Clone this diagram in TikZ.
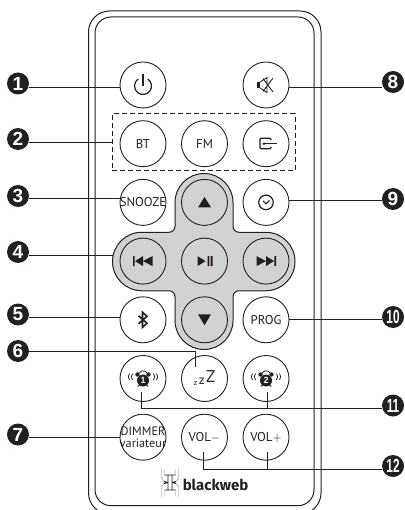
\documentclass[tikz,border=0pt]{standalone}
\usepackage{fontspec}
\usepackage{graphicx}
\setmainfont{PT Sans}
\newfontfamily\badgefont{Liberation Sans}
\newfontfamily\logofont{Fira Sans}
\usetikzlibrary{positioning}
\definecolor{ink}{HTML}{231F20}
\definecolor{padgray}{HTML}{D1D2D4}
\tikzstyle{btn} = [circle, draw=ink, fill=white, line width=0.9pt, minimum size=46pt, inner sep=0pt, text=ink, font=\fontsize{12.8}{12}\selectfont]
\tikzstyle{padbtn} = [btn, fill=padgray]
\tikzstyle{badge} = [circle, fill=ink, text=white, minimum size=22pt, inner sep=0pt, font=\badgefont\bfseries\fontsize{19}{19}\selectfont]
\tikzstyle{line} = [draw=ink, line width=1pt]
\tikzstyle{icon} = [draw=ink, line width=1.2pt]
\tikzstyle{solid icon} = [fill=ink]
\tikzstyle{clockface} = [circle, fill=ink, text=white, minimum size=12pt, inner sep=0pt, font=\badgefont\bfseries\fontsize{9}{9}\selectfont]
\newcommand{\lbl}[1]{\makebox[0pt]{#1}}
\newcommand{\narrowed}[1]{\scalebox{.62}[1]{#1}}
% alarm clock, #1 = button, #2 = number
\newcommand{\alarmicon}[2]{
	\begin{scope}[shift={(#1)}]
		\node [clockface] (#1face) at (0,-2) {#2};
		\path [solid icon] (-5.5,4) circle (2.2) (5.5,4) circle (2.2);
		\draw [line width=0.8pt, draw=ink] (-5,-8) -- (-3,-6) (5,-8) -- (3,-6);
		\draw [line width=0.8pt, draw=ink] (-4,5.5) arc (150:30:4.6);
		\draw [line width=0.8pt, draw=ink] (10.5,5) arc (40:-40:5) (13.5,5) arc (40:-40:5);
		\draw [line width=0.8pt, draw=ink] (-10.5,5) arc (140:220:5) (-13.5,5) arc (140:220:5);
	\end{scope}
}
\begin{document}
\begin{tikzpicture}[x=1pt, y=1pt, node distance = 58.7pt]
			\useasboundingbox (0,0) rectangle (404,-510);
			% remote body
			\begin{scope}
				\clip (0,0) rectangle (404,-510);
				\draw [line] (88.5,-11) [rounded corners=21pt] -- (321,-11) -- (321,-514) -- (88.5,-514) -- cycle;
				\draw [line] (95,-17) [rounded corners=16pt] -- (314,-17) -- (314,-505.7) -- (95,-505.7) -- cycle;
			\end{scope}
			% grey pad
			\draw [line, fill=padgray] (175,-202.5) arc (180:0:29) -- (233,-226.25) arc (180:270:6) -- (265.75,-232.25) arc (90:-90:29.25) -- (239,-290.75) arc (90:180:6) -- (233,-320.5) arc (0:-180:29) -- (175,-296.75) arc (0:90:6) -- (141.75,-290.75) arc (270:90:29.25) -- (169,-232.25) arc (-90:0:6) -- cycle;
			\coordinate (padleft) at (112.5,-255);
			% buttons
			\node [btn] (power) at (143,-85) {};
			\node [btn, below of=power] (bt) {\lbl{BT}};
			\node [btn, below of=bt] (snooze) {\lbl{SNOOZE}};
			\node [padbtn, below of=snooze] (prev) {};
			\node [btn, below of=prev] (bluetooth) {};
			\node [btn, below of=bluetooth] (alarmone) {};
			\node [btn, below of=alarmone, font=\fontsize{12.2}{11.5}\selectfont] (dimmer) {\lbl{\shortstack{DIMMER\\variateur}}};
			\node [btn, node distance=61.5pt, right of=bt] (fm) {\lbl{FM}};
			\node [padbtn, node distance=61.5pt, right of=snooze] (up) {};
			\node [padbtn, node distance=61.5pt, right of=prev] (play) {};
			\node [padbtn, node distance=61.5pt, right of=bluetooth] (down) {};
			\node [btn, node distance=61.5pt, right of=alarmone] (sleep) {\raisebox{-3pt}{\lbl{\raisebox{-1pt}{\fontsize{8}{8}\selectfont z}\hspace{1.5pt}\fontsize{13}{12}\selectfont z\hspace{1.5pt}\raisebox{2pt}{\fontsize{17}{16}\selectfont Z}}}};
			\node [btn, node distance=61.5pt, right of=dimmer] (volminus) {\lbl{VOL$-$}};
			\node [btn, node distance=123pt, right of=power] (mute) {};
			\node [btn, node distance=61.5pt, right of=fm] (input) {};
			\node [btn, node distance=61.5pt, right of=up] (clock) {};
			\node [padbtn, node distance=61.5pt, right of=play] (next) {};
			\node [btn, node distance=61.5pt, right of=down] (prog) {\lbl{PROG}};
			\node [btn, node distance=61.5pt, right of=sleep] (alarmtwo) {};
			\node [btn, node distance=61.5pt, right of=volminus] (volplus) {\lbl{VOL$+$}};
			\node [draw=ink, dash pattern=on 5pt off 3pt, line width=1pt, minimum width=183pt, minimum height=57pt, inner sep=0pt] (group) at (203.5,-142.5) {};
			% icons
			\draw [icon, shift={(power)}] (0,-1) ++(55:8.5) arc (55:-235:8.5);
			\draw [icon, shift={(power)}] (0,-1) -- (0,11);
			\begin{scope}[shift={(mute)}]
				\path [solid icon] (-9.5,-3.5) rectangle (-6,3);
				\draw [line width=0.9pt, draw=ink] (-6,-3) -- (1,-7.5) -- (1,7.5) -- (-6,3) (-3,6.5) -- (7,-7) (-3,-6.5) -- (7,7);
			\end{scope}
			\begin{scope}[shift={(input)}]
				\draw [icon, rounded corners=1pt] (5,3.5) -- (5,5.5) -- (-6,5.5) -- (-6,-5) -- (5,-5) -- (5,-3);
				\draw [icon] (-2,0) -- (11,0);
				\path [solid icon] (-2,0) circle (1.4);
			\end{scope}
			\begin{scope}[shift={(clock)}]
				\draw [icon] (0,0) circle (7.3);
				\draw [line width=1pt, draw=ink] (-3,1.5) -- (0,-1.5) -- (3.5,2);
			\end{scope}
			\path [solid icon, shift={(up)}] (-6.5,-5) -- (6.5,-5) -- (0,5.5) -- cycle;
			\path [solid icon, shift={(down)}] (-6.5,5.5) -- (6.5,5.5) -- (0,-5.5) -- cycle;
			\begin{scope}[shift={(prev)}]
				\path [solid icon] (-10,-5) rectangle (-8.3,5) (-8,0) -- (0,5) -- (0,-5) -- cycle (0,0) -- (9.5,5) -- (9.5,-5) -- cycle;
			\end{scope}
			\begin{scope}[shift={(next)}]
				\path [solid icon] (10,-5) rectangle (8.3,5) (8,0) -- (0,5) -- (0,-5) -- cycle (0,0) -- (-9.5,5) -- (-9.5,-5) -- cycle;
			\end{scope}
			\begin{scope}[shift={(play)}]
				\path [solid icon] (-7,5) -- (1,0) -- (-7,-5) -- cycle (3,-5) rectangle (4.8,5) (6.2,-5) rectangle (8,5);
			\end{scope}
			\draw [line width=1.6pt, draw=ink, shift={(bluetooth)}, line join=miter] (-4.5,4) -- (4,-3.5) -- (-0.5,-7.5) -- (-0.5,7.5) -- (4,3.5) -- (-4.5,-4);
			\alarmicon{alarmone}{1}
			\alarmicon{alarmtwo}{2}
			% logo
			\node [text=ink, font=\logofont\bfseries\fontsize{15}{15}\selectfont, inner sep=0pt] (brand) at (215.5,-484.5) {blackweb};
			\node [inner sep=0pt, minimum size=0pt] (mark) at (170,-482.5) {};
			\begin{scope}[shift={(mark)}]
				\draw [line width=0.9pt, draw=ink] (-2,-7.5) -- (-2,7.5) (2,-7.5) -- (2,7.5) (-5.5,7.5) -- (5.5,7.5) (-5.5,-7.5) -- (5.5,-7.5) (-6,1) -- (-2,0) (6,1) -- (2,0) (-6,-1) -- (-2,0) (6,-1) -- (2,0);
				\foreach \s in {-1,1} {
					\draw [line width=0.4pt, draw=ink!60] (\s*5.5,7.5) -- (\s*5.5,13) (\s*6,1) -- (\s*8.5,4) -- (\s*8.5,14.5);
					\draw [line width=0.4pt, draw=ink!60] (\s*5.5,-7.5) -- (\s*5.5,-13) (\s*6,-1) -- (\s*8.5,-4) -- (\s*8.5,-14.5);
				}
			\end{scope}
			% callout numbers
			\node [badge] (num1) at (18,-83.5) {1};
			\node [badge] (num2) at (18,-139) {2};
			\node [badge] (num3) at (18,-196) {3};
			\node [badge] (num4) at (18,-252) {4};
			\node [badge] (num5) at (18,-314.5) {5};
			\node [badge] (num6) at (18,-351) {6};
			\node [badge] (num7) at (18,-434.5) {7};
			\node [badge] (num8) at (393,-82) {8};
			\node [badge] (num9) at (393,-199) {9};
			\node [badge] (num10) at (393,-317) {\narrowed{10}};
			\node [badge] (num11) at (393,-405.5) {\narrowed{11}};
			\node [badge] (num12) at (393,-466) {\narrowed{12}};
			% leaders
			\coordinate (sleepend) at ([shift={(-9.5,12)}]sleep);
			\coordinate (oneend) at ([shift={(-2,-13.5)}]alarmone);
			\coordinate (twoend) at ([shift={(1,-13.5)}]alarmtwo);
			\coordinate (minusend) at ([shift={(-1,-15)}]volminus);
			\coordinate (plusend) at ([shift={(1,-15)}]volplus);
			\coordinate (alarmrun) at ([yshift=-2.5pt]num11.west);
			\coordinate (volrun) at ([yshift=-3pt]num12.west);
			\path [line] (num1.east |- power.185) -- (power.185);
			\path [line] (num2.east |- group.west) -- (group.west);
			\path [line] (num3.east |- snooze.170) -- (snooze.170);
			\path [line] (num4.east |- padleft) -- (padleft);
			\path [line] (num5.east |- bluetooth.174) -- (bluetooth.174);
			\path [line] (num6.east) -| (sleepend);
			\path [line] (num7.east |- dimmer.west) -- (dimmer.west);
			\path [line] (mute.355) -- (num8.west |- mute.355);
			\path [line] (clock.4) -- (num9.west |- clock.4);
			\path [line] (prog.east) -- (num10.west |- prog.east);
			\path [line] (oneend) |- (alarmrun);
			\path [line] (twoend) -- (twoend |- alarmrun);
			\path [line] (minusend) |- (volrun);
			\path [line] (plusend) -- (plusend |- volrun);
			
			\end{tikzpicture}
\end{document}
